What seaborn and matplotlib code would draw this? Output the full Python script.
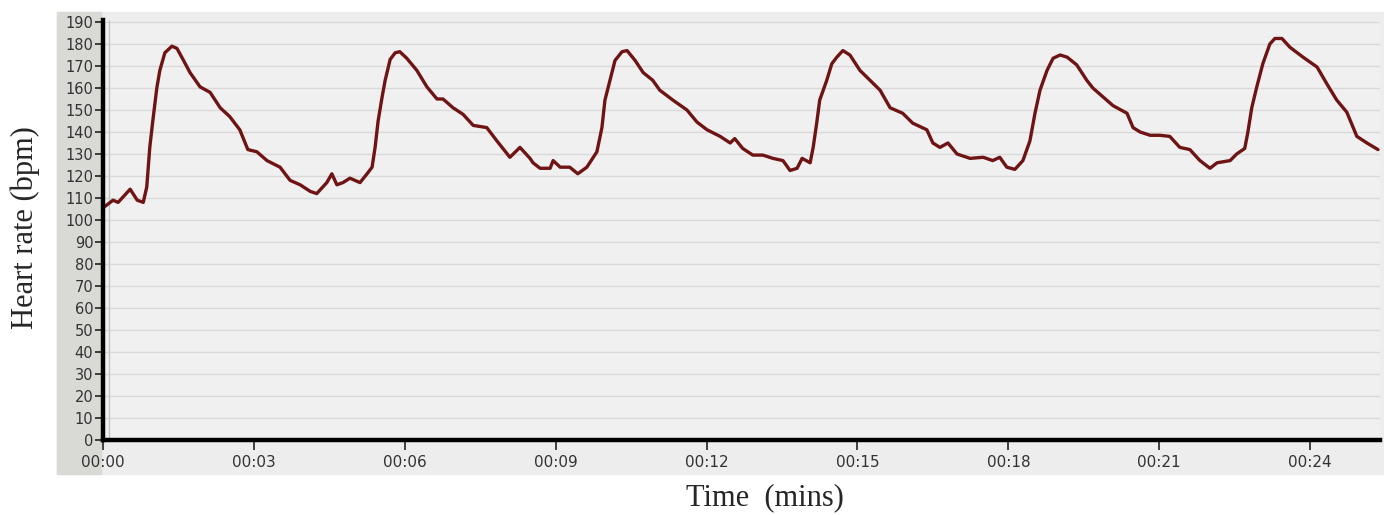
import numpy as np
import pandas as pd
import matplotlib
matplotlib.use("Agg")
import matplotlib.pyplot as plt
from matplotlib.patches import Rectangle
import seaborn as sns

# Heart rate trace (time in minutes, bpm)
time_min = [
    0.00, 0.20, 0.30, 0.54, 0.68, 0.80, 0.87, 0.93, 0.99, 1.07, 1.13, 1.23,
    1.37, 1.47, 1.59, 1.73, 1.93, 2.13, 2.33, 2.52, 2.72, 2.88, 3.06, 3.26,
    3.52, 3.72, 3.92, 4.12, 4.25, 4.45, 4.55, 4.65, 4.77, 4.91, 5.11, 5.25,
    5.35, 5.41, 5.47, 5.55, 5.61, 5.71, 5.81, 5.90, 6.04, 6.24, 6.44, 6.64,
    6.76, 6.96, 7.16, 7.36, 7.63, 7.83, 8.09, 8.29, 8.49, 8.55, 8.69, 8.89,
    8.95, 9.09, 9.28, 9.44, 9.62, 9.82, 9.92, 9.98, 10.08, 10.18, 10.32, 10.42,
    10.58, 10.74, 10.93, 11.07, 11.33, 11.61, 11.81, 12.01, 12.27, 12.47, 12.56, 12.72,
    12.92, 13.12, 13.32, 13.52, 13.66, 13.80, 13.90, 14.06, 14.12, 14.19, 14.25, 14.39,
    14.49, 14.59, 14.71, 14.85, 15.05, 15.25, 15.45, 15.65, 15.90, 16.10, 16.38, 16.50,
    16.64, 16.80, 16.98, 17.24, 17.50, 17.69, 17.83, 17.97, 18.13, 18.29, 18.43, 18.53,
    18.63, 18.77, 18.89, 19.03, 19.17, 19.36, 19.56, 19.68, 19.88, 20.08, 20.36, 20.48,
    20.62, 20.82, 21.01, 21.21, 21.41, 21.61, 21.81, 22.01, 22.15, 22.41, 22.54, 22.70,
    22.76, 22.84, 22.94, 23.06, 23.20, 23.30, 23.44, 23.60, 23.86, 24.14, 24.33, 24.53,
    24.73, 24.93, 25.13, 25.35,
]
heart_rate = [
    105.5, 109, 108, 114, 109, 108, 115, 133, 145, 160, 168, 176,
    179, 178, 173, 167, 160.5, 158, 151, 147, 141, 132, 131, 127,
    124, 118, 116, 113, 112, 117, 121, 116, 117, 119, 117, 121,
    124, 133, 145, 156, 163.5, 173, 176, 176.5, 173.5, 168, 160.5, 155,
    155, 151, 148, 143, 142, 136, 128.5, 133, 128, 126, 123.5, 123.5,
    127, 124, 124, 121, 124, 131, 142, 154.5, 163.5, 172.5, 176.5, 177,
    172.5, 167, 163.5, 159, 154.5, 150, 144.5, 141, 138, 135, 137, 132.5,
    129.5, 129.5, 128, 127, 122.5, 123.5, 128, 126, 133, 144, 154.5, 163.5,
    171, 174, 177, 175, 168, 163.5, 159, 151, 148.5, 144, 141, 135,
    133, 135, 130, 128, 128.5, 127, 128.5, 124, 123, 127, 136, 148.5,
    159, 168, 173.5, 175, 174, 170.5, 163.5, 160, 156, 152, 148.5, 142,
    140, 138.5, 138.5, 138, 133, 132, 127, 123.5, 126, 127, 130, 132.5,
    139.5, 151, 160.5, 171, 180, 182.5, 182.5, 178.5, 174, 169.5, 162, 154.5,
    149, 138, 135, 132,
]

y_ticks = list(range(0, 200, 10))
x_ticks = [0, 3, 6, 9, 12, 15, 18, 21, 24]
x_tick_labels = [f"00:{m:02d}" for m in x_ticks]

df = pd.DataFrame({"time": time_min, "hr": heart_rate})

sns.set_style("white")
W, H = 1384, 515
fig = plt.figure(figsize=(W / 100, H / 100), dpi=100)

# chart frame: light panel plus darker strip behind the y tick labels
fig.patches.append(Rectangle((57 / W, 1 - 474 / H), (W - 57) / W, 462 / H,
                             transform=fig.transFigure, color="#ededed", zorder=-2))
fig.patches.append(Rectangle((57 / W, 1 - 474 / H), 44 / W, 462 / H,
                             transform=fig.transFigure, color="#d9d9d5", zorder=-1))

ax = fig.add_axes([103 / W, 1 - 440 / H, (1380 - 103) / W, 420 / H])
ax.set_facecolor("#f0f0f0")

sns.lineplot(data=df, x="time", y="hr", ax=ax, color="#6e1414",
             linewidth=2.4, estimator=None, sort=False)

ax.set_xlim(0, 25.39)
ax.set_ylim(0, 190.9)
ax.set_yticks(y_ticks)
ax.set_xticks(x_ticks)
ax.set_xticklabels(x_tick_labels)
ax.yaxis.grid(True, color="#d9d9d9", linewidth=1)
ax.xaxis.grid(False)
ax.set_axisbelow(True)
ax.axvline(0.11, color="#c4c4c4", linewidth=1, zorder=1)

for side in ["top", "right"]:
    ax.spines[side].set_visible(False)
for side in ["left", "bottom"]:
    ax.spines[side].set_color("black")
    ax.spines[side].set_linewidth(3.2)

ax.tick_params(axis="y", direction="out", length=6, width=1.2, color="#222222",
               labelsize=10.5, labelcolor="#333333", pad=1, left=True)
ax.tick_params(axis="x", direction="out", length=7, width=1.2, color="#222222",
               labelsize=11, labelcolor="#333333", pad=4, bottom=True)
ax.set_xlabel("")
ax.set_ylabel("")

fig.text(25 / W, 1 - 228 / H, "Heart rate (bpm)", rotation=90, ha="center", va="center",
         fontsize=22, family="Liberation Serif")
fig.text(765 / W, 1 - 498 / H, "Time  (mins)", ha="center", va="center",
         fontsize=22, family="Liberation Serif")

fig.savefig("out.png", dpi=100, facecolor="white")
